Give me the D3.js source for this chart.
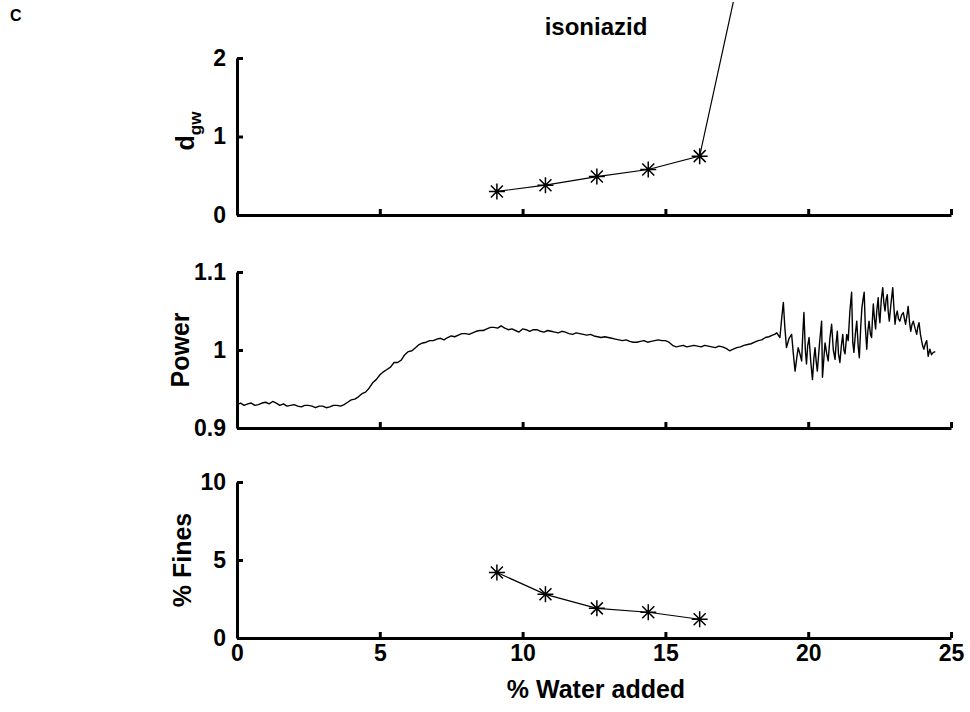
<!DOCTYPE html>
<meta charset="utf-8">
<style>
  body { margin: 0; background: #fff; }
  text { font-family: "Liberation Sans", Arial, sans-serif; font-weight: bold; fill: #000; }
</style>
<svg width="970" height="712"></svg>
<script src="https://d3js.org/d3.v7.min.js"></script>
<script>

    // % water added at the sampled granulation points
    var sampleX = [9.1, 10.8, 12.6, 14.4, 16.2];
    // d_gw, last point runs off the top of the panel
    var dgwX = [9.1, 10.8, 12.6, 14.4, 16.2, 18.0];
    var dgwVals = [0.30, 0.38, 0.49, 0.58, 0.75, 3.75];
    var finesVals = [4.2, 2.8, 1.9, 1.65, 1.2];

    // power trace
    var powerX = [0.0, 0.125, 0.25, 0.375, 0.5, 0.625, 0.75, 0.875, 1.0, 1.125, 1.25, 1.375, 1.5, 1.625, 1.75, 1.875,
        2.0, 2.125, 2.25, 2.375, 2.5, 2.625, 2.75, 2.875, 3.0, 3.125, 3.25, 3.375, 3.5, 3.625, 3.75, 3.875,
        4.0, 4.125, 4.25, 4.375, 4.5, 4.625, 4.75, 4.875, 5.0, 5.125, 5.25, 5.375, 5.5, 5.625, 5.75, 5.875,
        6.0, 6.125, 6.25, 6.375, 6.5, 6.625, 6.75, 6.875, 7.0, 7.125, 7.25, 7.375, 7.5, 7.625, 7.75, 7.875,
        8.0, 8.125, 8.25, 8.375, 8.5, 8.625, 8.75, 8.875, 9.0, 9.125, 9.25, 9.375, 9.5, 9.625, 9.75, 9.875,
        10.0, 10.125, 10.25, 10.375, 10.5, 10.625, 10.75, 10.875, 11.0, 11.125, 11.25, 11.375, 11.5, 11.625, 11.75, 11.875,
        12.0, 12.125, 12.25, 12.375, 12.5, 12.625, 12.75, 12.875, 13.0, 13.125, 13.25, 13.375, 13.5, 13.625, 13.75, 13.875,
        14.0, 14.125, 14.25, 14.375, 14.5, 14.625, 14.75, 14.875, 15.0, 15.125, 15.25, 15.375, 15.5, 15.625, 15.75, 15.875,
        16.0, 16.125, 16.25, 16.375, 16.5, 16.625, 16.75, 16.875, 17.0, 17.125, 17.25, 17.375, 17.5, 17.625, 17.75, 17.875,
        18.0, 18.125, 18.25, 18.375, 18.5, 18.625, 18.75, 18.825, 18.9, 19.01,
        19.07, 19.13, 19.18, 19.24, 19.33, 19.42, 19.48, 19.54, 19.60, 19.65, 19.71, 19.77, 19.81, 19.85,
        19.90, 19.94, 19.98, 20.03, 20.09, 20.15, 20.20, 20.24, 20.28, 20.32, 20.40, 20.47, 20.50, 20.55,
        20.59, 20.65, 20.70, 20.76, 20.82, 20.88, 20.94, 20.98, 21.02, 21.06, 21.11, 21.16, 21.21, 21.25,
        21.29, 21.35, 21.40, 21.46, 21.52, 21.56, 21.60, 21.65, 21.70, 21.75, 21.79, 21.84, 21.88, 21.92,
        21.96, 22.00, 22.05, 22.09, 22.13, 22.18, 22.22, 22.25, 22.28, 22.32, 22.36, 22.40, 22.45, 22.48,
        22.51, 22.56, 22.61, 22.65, 22.69, 22.73, 22.77, 22.80, 22.84, 22.90, 22.96, 23.00, 23.04, 23.08,
        23.12, 23.16, 23.21, 23.27, 23.33, 23.37, 23.41, 23.46, 23.50, 23.55, 23.59, 23.63, 23.68, 23.74,
        23.80, 23.84, 23.88, 23.93, 23.97, 24.01, 24.05, 24.10, 24.15, 24.20, 24.26, 24.32, 24.38, 24.45];
    var powerY = [0.930, 0.932, 0.929, 0.931, 0.932, 0.929, 0.930, 0.932, 0.933, 0.931, 0.934, 0.932, 0.929, 0.931, 0.928, 0.929,
        0.930, 0.928, 0.927, 0.929, 0.929, 0.928, 0.926, 0.928, 0.928, 0.926, 0.927, 0.929, 0.929, 0.928, 0.930, 0.933,
        0.936, 0.937, 0.940, 0.944, 0.946, 0.951, 0.958, 0.962, 0.968, 0.972, 0.975, 0.978, 0.984, 0.984, 0.987, 0.994,
        0.998, 0.999, 1.003, 1.007, 1.009, 1.010, 1.012, 1.012, 1.014, 1.015, 1.013, 1.016, 1.018, 1.017, 1.019, 1.021,
        1.021, 1.020, 1.022, 1.024, 1.025, 1.025, 1.027, 1.029, 1.029, 1.028, 1.031, 1.028, 1.026, 1.027, 1.025, 1.023,
        1.027, 1.026, 1.024, 1.026, 1.026, 1.024, 1.023, 1.025, 1.024, 1.023, 1.022, 1.024, 1.023, 1.021, 1.020, 1.022,
        1.021, 1.020, 1.019, 1.020, 1.018, 1.017, 1.016, 1.017, 1.016, 1.015, 1.014, 1.013, 1.012, 1.013, 1.011, 1.010,
        1.010, 1.011, 1.012, 1.010, 1.011, 1.012, 1.013, 1.012, 1.012, 1.010, 1.006, 1.004, 1.005, 1.006, 1.004, 1.005,
        1.006, 1.005, 1.004, 1.006, 1.005, 1.004, 1.003, 1.005, 1.004, 1.002, 0.999, 1.001, 1.003, 1.004, 1.006, 1.007,
        1.008, 1.010, 1.012, 1.013, 1.016, 1.017, 1.019, 1.020, 1.022, 1.016,
        1.040, 1.061, 1.030, 1.003, 1.015, 1.020, 0.995, 0.973, 0.990, 1.003, 0.995, 0.986, 1.020, 1.048,
        1.000, 0.982, 1.005, 1.016, 0.985, 0.962, 0.990, 1.003, 0.985, 0.973, 1.010, 1.037, 0.965, 0.990,
        1.009, 0.995, 0.986, 1.015, 1.033, 1.000, 0.988, 1.010, 1.024, 0.995, 0.984, 1.005, 1.020, 1.000,
        0.995, 1.020, 1.012, 1.050, 1.074, 1.010, 0.997, 1.020, 1.037, 1.005, 0.990, 1.030, 1.054, 1.065,
        1.074, 1.030, 1.001, 1.025, 1.037, 1.020, 1.016, 1.040, 1.059, 1.040, 1.027, 1.050, 1.067, 1.045,
        1.035, 1.065, 1.080, 1.060, 1.050, 1.065, 1.071, 1.050, 1.037, 1.060, 1.080, 1.055, 1.033, 1.045,
        1.050, 1.040, 1.037, 1.045, 1.048, 1.040, 1.033, 1.045, 1.056, 1.035, 1.024, 1.032, 1.037, 1.028,
        1.020, 1.030, 1.035, 1.020, 1.012, 1.005, 1.001, 1.008, 1.012, 0.992, 1.001, 0.994, 0.997, 0.998];

    var xTicks = [0, 5, 10, 15, 20, 25];
    var dgwTicks = [0, 1, 2];
    var powerTicks = [0.9, 1, 1.1];
    var finesTicks = [0, 5, 10];

    var svg = d3.select("svg");

    var x = d3.scaleLinear().domain([0, 25]).range([237, 951]);

    var panels = [
        {name: "dgw", domain: [0, 2], range: [215, 58], ticks: dgwTicks, fmt: d3.format("d"), labels: false, clipTop: 2},
        {name: "power", domain: [0.9, 1.1], range: [428, 272], ticks: powerTicks, fmt: d => d === 1 ? "1" : d3.format(".1f")(d), labels: false, clipTop: 262},
        {name: "fines", domain: [0, 10], range: [638, 482], ticks: finesTicks, fmt: d3.format("d"), labels: true, clipTop: 470}
    ];

    panels.forEach(function(p) {
        p.y = d3.scaleLinear().domain(p.domain).range(p.range);

        svg.append("clipPath").attr("id", "clip-" + p.name)
            .append("rect")
            .attr("x", x(0)).attr("y", p.clipTop)
            .attr("width", x(25) - x(0)).attr("height", p.range[0] - p.clipTop);

        var gx = svg.append("g")
            .attr("transform", "translate(0," + p.range[0] + ")")
            .call(d3.axisBottom(x).tickValues(xTicks).tickSizeInner(-6).tickSizeOuter(0).tickPadding(7)
                .tickFormat(p.labels ? d3.format("d") : ""));

        var gy = svg.append("g")
            .attr("transform", "translate(" + x(0) + ",0)")
            .call(d3.axisLeft(p.y).tickValues(p.ticks).tickSizeInner(-6).tickSizeOuter(0).tickPadding(11)
                .tickFormat(p.fmt));

        [gx, gy].forEach(function(g) {
            g.select(".domain").attr("stroke-width", 3).attr("stroke", "#000");
            g.selectAll(".tick line").attr("stroke-width", 3).attr("stroke", "#000");
            g.selectAll(".tick text").attr("font-size", 23).attr("font-family", null).attr("fill", "#000");
        });
    });

    var asterisk = function(g, px, py) {
        var r = 8, d = 6;
        g.append("path")
            .attr("d", "M" + (px - r) + "," + py + "H" + (px + r) +
                       "M" + px + "," + (py - r) + "V" + (py + r) +
                       "M" + (px - d) + "," + (py - d) + "L" + (px + d) + "," + (py + d) +
                       "M" + (px - d) + "," + (py + d) + "L" + (px + d) + "," + (py - d))
            .attr("stroke", "#000").attr("stroke-width", 1.5).attr("fill", "none");
    };

    // d_gw panel
    var p0 = panels[0];
    var dgwData = dgwX.map((v, i) => [v, dgwVals[i]]);
    var g0 = svg.append("g").attr("clip-path", "url(#clip-dgw)");
    g0.append("path").datum(dgwData)
        .attr("fill", "none").attr("stroke", "#000").attr("stroke-width", 1.2)
        .attr("d", d3.line().x(d => x(d[0])).y(d => p0.y(d[1])));
    dgwData.forEach(d => asterisk(g0, x(d[0]), p0.y(d[1])));

    // power panel
    var p1 = panels[1];
    var powerData = powerX.map((v, i) => [v, powerY[i]]);
    svg.append("g").attr("clip-path", "url(#clip-power)")
        .append("path").datum(powerData)
        .attr("fill", "none").attr("stroke", "#000").attr("stroke-width", 1.4)
        .attr("stroke-linejoin", "round")
        .attr("d", d3.line().x(d => x(d[0])).y(d => p1.y(d[1])));

    // fines panel
    var p2 = panels[2];
    var finesData = sampleX.map((v, i) => [v, finesVals[i]]);
    var g2 = svg.append("g");
    g2.append("path").datum(finesData)
        .attr("fill", "none").attr("stroke", "#000").attr("stroke-width", 1.2)
        .attr("d", d3.line().x(d => x(d[0])).y(d => p2.y(d[1])));
    finesData.forEach(d => asterisk(g2, x(d[0]), p2.y(d[1])));

    // labels
    svg.append("text").attr("x", 10).attr("y", 21).attr("font-size", 16).text("C");
    svg.append("text").attr("x", 596).attr("y", 35).attr("text-anchor", "middle")
        .attr("font-size", 24).text("isoniazid");

    var dl = svg.append("text").attr("transform", "translate(194,131) rotate(-90)")
        .attr("text-anchor", "middle").attr("font-size", 25);
    dl.append("tspan").text("d");
    dl.append("tspan").attr("font-size", 17).attr("dy", 7).text("gw");

    svg.append("text").attr("transform", "translate(189,350) rotate(-90)")
        .attr("text-anchor", "middle").attr("font-size", 25).text("Power");
    svg.append("text").attr("transform", "translate(191,560) rotate(-90)")
        .attr("text-anchor", "middle").attr("font-size", 25).text("% Fines");
    svg.append("text").attr("x", 596).attr("y", 698).attr("text-anchor", "middle")
        .attr("font-size", 25).text("% Water added");

</script>
